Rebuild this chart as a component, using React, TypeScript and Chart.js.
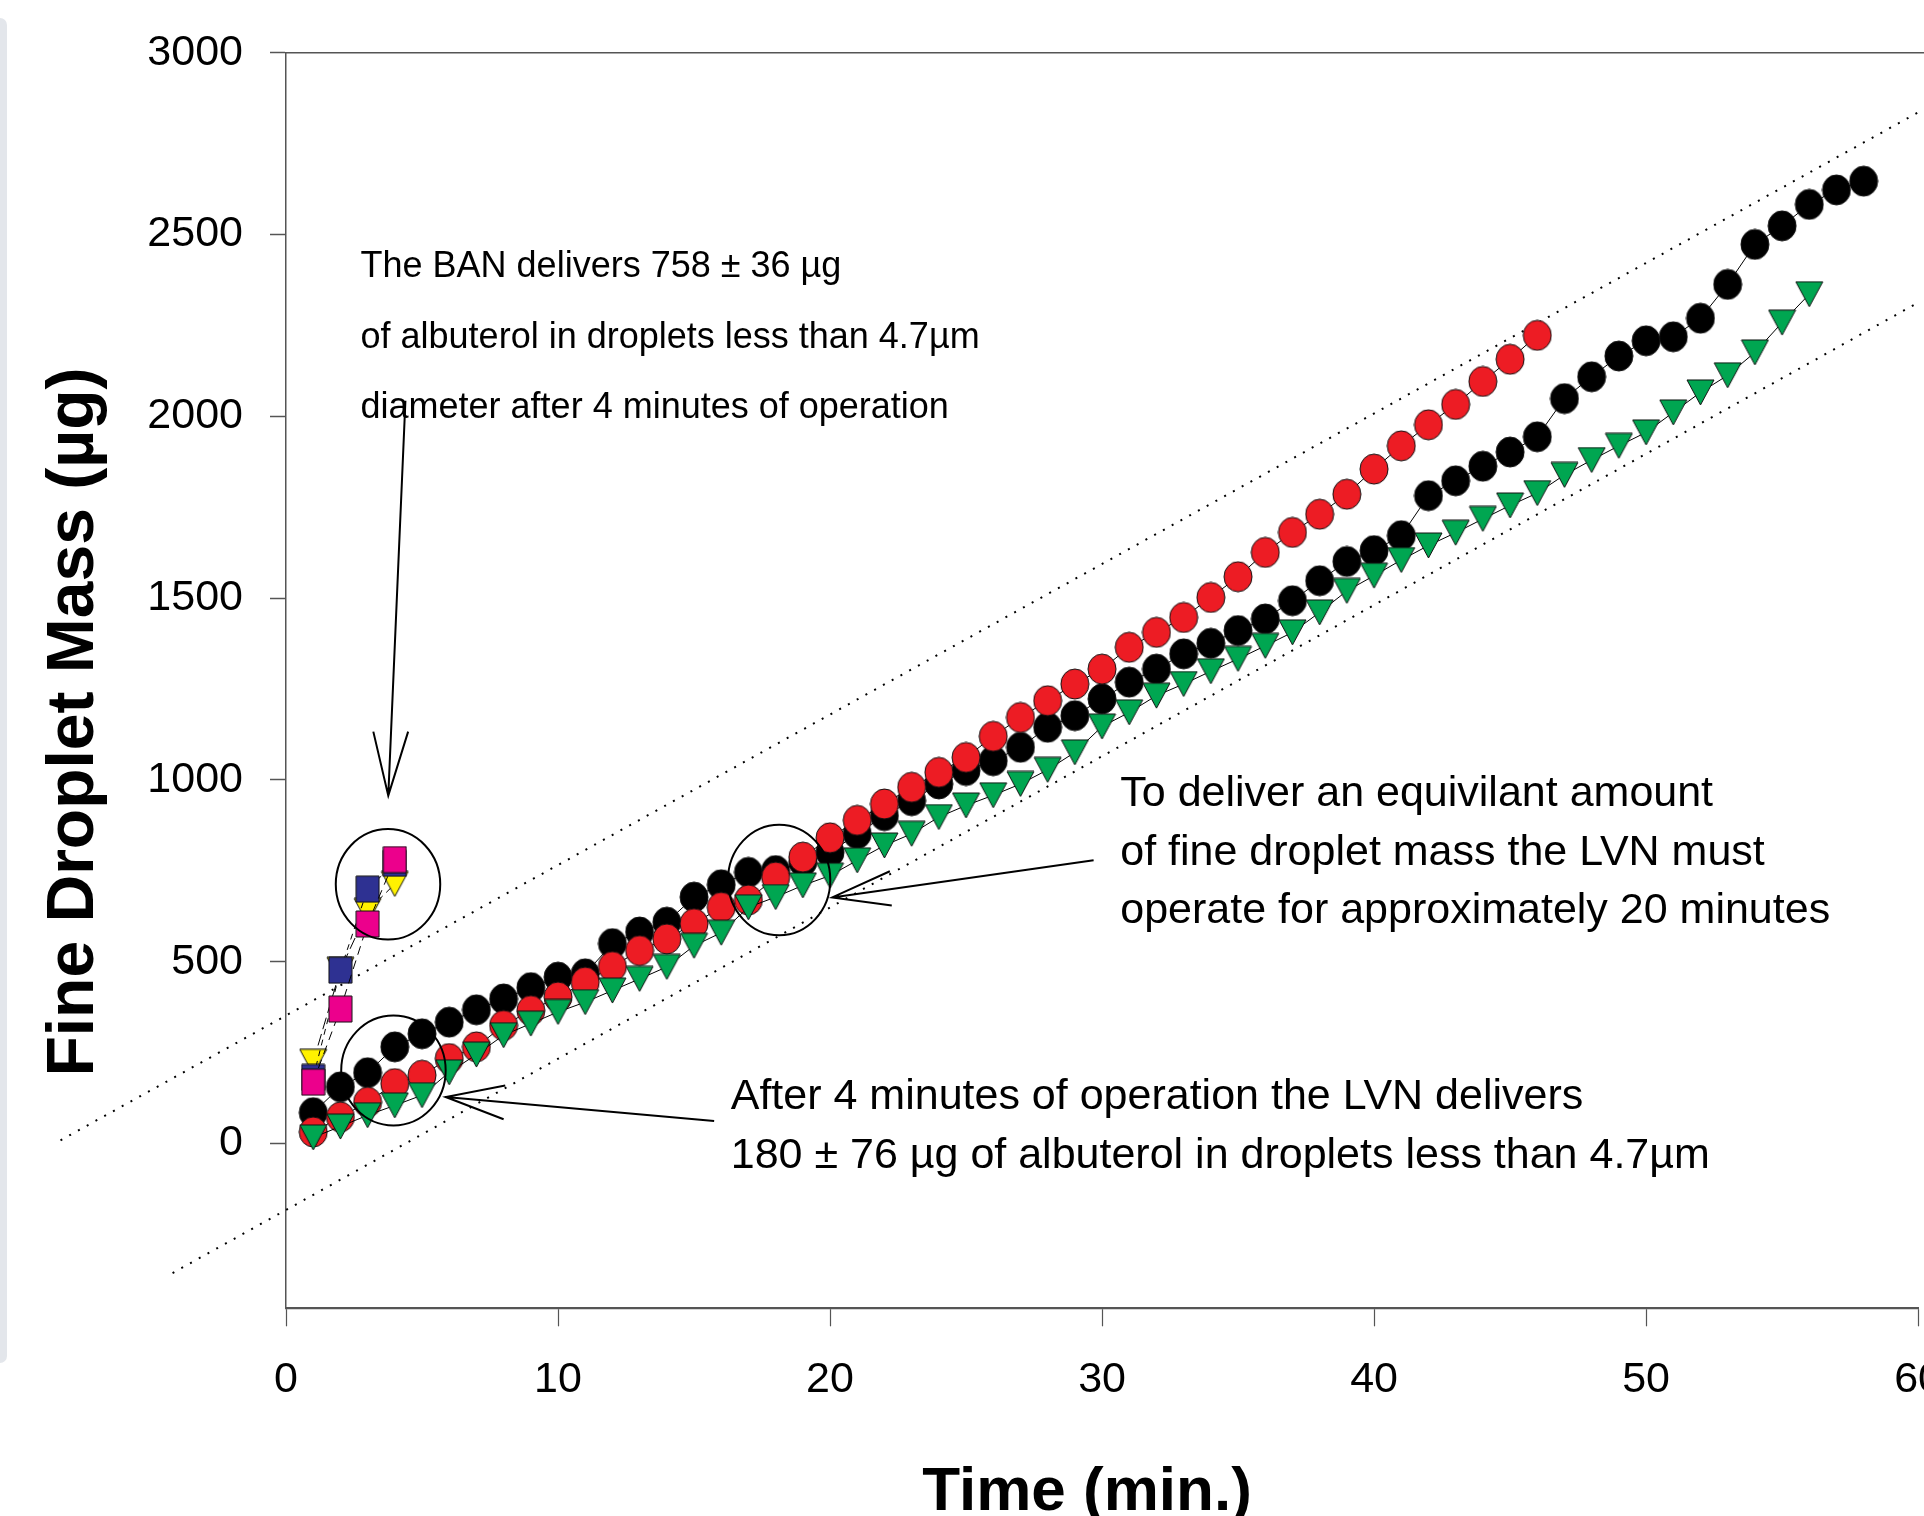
import React, { useEffect, useRef } from "react";
import { Chart, registerables } from "chart.js";

Chart.register(...registerables);

// ---------- data ----------
const TIMES = [
  1, 2, 3, 4, 5, 6, 7, 8, 9, 10, 11, 12, 13, 14, 15, 16, 17, 18, 19, 20,
  21, 22, 23, 24, 25, 26, 27, 28, 29, 30, 31, 32, 33, 34, 35, 36, 37, 38, 39, 40,
  41, 42, 43, 44, 45, 46, 47, 48, 49, 50, 51, 52, 53, 54, 55, 56, 57, 58,
];

// LVN run (black circles), minutes 1..58
const LVN_BLACK = [
  85, 156, 195, 266, 302, 334, 368, 398, 429, 458,
  467, 550, 582, 609, 678, 712, 746, 751, 775, 801,
  852, 902, 943, 989, 1026, 1053, 1090, 1145, 1177, 1223,
  1269, 1305, 1347, 1376, 1411, 1443, 1493, 1548, 1601, 1631,
  1672, 1782, 1823, 1863, 1902, 1944, 2049, 2109, 2166, 2208,
  2219, 2270, 2363, 2473, 2524, 2583, 2623, 2647,
];

// LVN run (red circles), minutes 1..46
const LVN_RED = [
  32, 73, 114, 165, 188, 234, 266, 325, 366, 403,
  444, 487, 531, 563, 605, 650, 670, 733, 788, 841,
  889, 934, 980, 1021, 1062, 1120, 1172, 1218, 1264, 1305,
  1365, 1406, 1447, 1502, 1559, 1626, 1681, 1731, 1786, 1855,
  1919, 1977, 2033, 2096, 2157, 2223,
];

// LVN run (green triangles), minutes 1..56
const LVN_GREEN = [
  17, 47, 78, 105, 133, 196, 245, 298, 330, 362,
  389, 421, 453, 486, 544, 580, 650, 678, 710, 737,
  779, 820, 852, 898, 930, 958, 989, 1028, 1076, 1147,
  1186, 1232, 1264, 1299, 1333, 1369, 1406, 1461, 1520, 1562,
  1605, 1645, 1680, 1718, 1755, 1789, 1839, 1880, 1919, 1956,
  2011, 2066, 2113, 2176, 2258, 2336,
];

// BAN runs, minutes 1..4
const BAN_PINK = [169, 370, 604, 781];
const BAN_NAVY = [182, 477, 700, 771];
const BAN_YELLOW = [225, 478, 640, 714];

// dotted guide lines (x, y end points)
const UPPER_GUIDE_X = [-8.29, 60];
const UPPER_GUIDE_Y = [9, 2836];
const LOWER_GUIDE_X = [-4.17, 60];
const LOWER_GUIDE_Y = [-356, 2313];

const X_TICKS = [0, 10, 20, 30, 40, 50, 60];
const Y_TICKS = [0, 500, 1000, 1500, 2000, 2500, 3000];

const X_TITLE = "Time (min.)";
const Y_TITLE = "Fine Droplet Mass (\u00b5g)";

const NOTE_BAN = [
  "The BAN delivers 758 \u00b1 36 \u00b5g",
  "of albuterol in droplets less than 4.7\u00b5m",
  "diameter after 4 minutes of operation",
];
const NOTE_EQUIV = [
  "To deliver an equivilant amount",
  "of fine droplet mass the LVN must",
  "operate for approximately 20 minutes",
];
const NOTE_LVN = [
  "After 4 minutes of operation the LVN delivers",
  "180 \u00b1 76 \u00b5g of albuterol in droplets less than 4.7\u00b5m",
];

// ---------- helpers ----------
const FONT = "'Liberation Sans', Arial, Helvetica, sans-serif";

function makeMarker(kind: string, fill: string, w: number, h: number) {
  const c = document.createElement("canvas");
  c.width = w + 2;
  c.height = h + 2;
  const g = c.getContext("2d")!;
  g.fillStyle = fill;
  g.strokeStyle = "#111";
  g.lineWidth = 1;
  g.beginPath();
  if (kind === "circle") {
    g.ellipse((w + 2) / 2, (h + 2) / 2, w / 2, h / 2, 0, 0, Math.PI * 2);
  } else if (kind === "square") {
    g.rect(1, 1, w, h);
  } else {
    g.moveTo(1, 1);
    g.lineTo(w + 1, 1);
    g.lineTo((w + 2) / 2, h + 1);
    g.closePath();
  }
  g.fill();
  g.stroke();
  return c;
}

function pairs(xs: number[], ys: number[]) {
  return ys.map((v, i) => ({ x: xs[i], y: v }));
}

const annotationPlugin = {
  id: "annotations",
  afterDatasetsDraw(chart: any) {
    const { ctx, chartArea } = chart;
    const xs = chart.scales.x;
    const ys = chart.scales.y;
    const px = (v: number) => xs.getPixelForValue(v);
    const py = (v: number) => ys.getPixelForValue(v);
    ctx.save();

    // top frame line at 3000
    ctx.strokeStyle = "#555";
    ctx.lineWidth = 1.5;
    ctx.beginPath();
    ctx.moveTo(chartArea.left, chartArea.top);
    ctx.lineTo(chart.width, chartArea.top);
    ctx.stroke();

    // highlight circles
    const circles = [
      { x: 3.75, y: 713, rx: 1.92, ry: 152 },
      { x: 3.95, y: 201, rx: 1.92, ry: 151 },
      { x: 18.13, y: 725, rx: 1.88, ry: 152 },
    ];
    ctx.strokeStyle = "#000";
    ctx.lineWidth = 2;
    circles.forEach((c) => {
      const cx = px(c.x);
      const cy = py(c.y);
      ctx.beginPath();
      ctx.ellipse(cx, cy, Math.abs(px(c.x + c.rx) - cx), Math.abs(py(c.y + c.ry) - cy), 0, 0, Math.PI * 2);
      ctx.stroke();
    });

    // arrows: start -> tip, plus two wings from tip
    const arrows = [
      { s: [4.39, 2043], t: [3.76, 957], w1: [3.21, 1133], w2: [4.49, 1133] },
      { s: [29.69, 779], t: [20.08, 677], w1: [22.27, 655], w2: [22.2, 749] },
      { s: [15.74, 62], t: [5.87, 128], w1: [8.06, 160], w2: [8.0, 67] },
    ];
    ctx.lineWidth = 2;
    arrows.forEach((a) => {
      ctx.beginPath();
      ctx.moveTo(px(a.s[0]), py(a.s[1]));
      ctx.lineTo(px(a.t[0]), py(a.t[1]));
      ctx.moveTo(px(a.w1[0]), py(a.w1[1]));
      ctx.lineTo(px(a.t[0]), py(a.t[1]));
      ctx.lineTo(px(a.w2[0]), py(a.w2[1]));
      ctx.stroke();
    });

    // notes
    ctx.fillStyle = "#000";
    ctx.textAlign = "left";
    ctx.textBaseline = "middle";
    ctx.font = `36px ${FONT}`;
    [2411, 2215, 2022].forEach((yy, i) => ctx.fillText(NOTE_BAN[i], px(2.74), py(yy)));
    ctx.font = `43px ${FONT}`;
    [960, 798, 640].forEach((yy, i) => ctx.fillText(NOTE_EQUIV[i], px(30.67), py(yy)));
    [127, -35].forEach((yy, i) => ctx.fillText(NOTE_LVN[i], px(16.35), py(yy)));

    // axis titles
    ctx.font = `bold 62px ${FONT}`;
    ctx.textAlign = "center";
    ctx.textBaseline = "alphabetic";
    ctx.fillText(X_TITLE, chartArea.left + 801, 1510);

    ctx.save();
    ctx.translate(93, 722);
    ctx.rotate(-Math.PI / 2);
    ctx.font = `bold 66px ${FONT}`;
    ctx.fillText(Y_TITLE, 0, 0);
    ctx.restore();

    ctx.restore();
  },
};

export default function App() {
  const ref = useRef<HTMLCanvasElement | null>(null);

  useEffect(() => {
    if (!ref.current) return;
    const blackDot = makeMarker("circle", "#000000", 28, 30);
    const redDot = makeMarker("circle", "#ed1c24", 28, 30);
    const greenTri = makeMarker("tri", "#00a651", 27, 25);
    const pinkSq = makeMarker("square", "#ec008c", 23, 26);
    const navySq = makeMarker("square", "#2e3192", 23, 26);
    const yellowTri = makeMarker("tri", "#fff200", 27, 25);

    const seriesLine = { borderColor: "#000", borderWidth: 1, tension: 0, pointRadius: 14, showLine: true };
    const banLine = { borderColor: "#000", borderWidth: 1, borderDash: [9, 6], tension: 0, pointRadius: 14, showLine: true };
    const guide = { borderColor: "#000", borderWidth: 2, borderDash: [2, 8], pointRadius: 0, showLine: true, clip: false as any };

    const chart = new Chart(ref.current, {
      type: "scatter",
      data: {
        datasets: [
          { label: "LVN green", data: pairs(TIMES, LVN_GREEN), pointStyle: greenTri, ...seriesLine },
          { label: "LVN red", data: pairs(TIMES, LVN_RED), pointStyle: redDot, ...seriesLine },
          { label: "LVN black", data: pairs(TIMES, LVN_BLACK), pointStyle: blackDot, ...seriesLine },
          { label: "BAN pink", data: pairs(TIMES, BAN_PINK), pointStyle: pinkSq, ...banLine },
          { label: "BAN navy", data: pairs(TIMES, BAN_NAVY), pointStyle: navySq, ...banLine, borderDash: [6, 5] },
          { label: "BAN yellow", data: pairs(TIMES, BAN_YELLOW), pointStyle: yellowTri, ...banLine, borderDash: [12, 5] },
          { label: "upper", data: pairs(UPPER_GUIDE_X, UPPER_GUIDE_Y), ...guide },
          { label: "lower", data: pairs(LOWER_GUIDE_X, LOWER_GUIDE_Y), ...guide },
        ] as any,
      },
      options: {
        responsive: false,
        devicePixelRatio: 1,
        animation: false,
        events: [],
        layout: { padding: { left: 0, top: 52, right: 41, bottom: 0 } },
        plugins: { legend: { display: false }, tooltip: { enabled: false }, title: { display: false } },
        scales: {
          x: {
            type: "linear",
            min: 0,
            max: 60,
            afterBuildTicks: (s: any) => {
              s.ticks = X_TICKS.map((v) => ({ value: v }));
            },
            afterFit: (s: any) => {
              s.height = 207.7;
            },
            grid: { drawOnChartArea: false, drawTicks: true, tickLength: 18, tickColor: "#555", tickWidth: 1.2 },
            border: { display: true, color: "#555", width: 2.2 },
            ticks: {
              color: "#000",
              font: { family: FONT, size: 43 },
              padding: 28,
              maxRotation: 0,
              autoSkip: false,
              callback: (v: any) => String(v),
            },
          },
          y: {
            type: "linear",
            min: -453,
            max: 3000,
            afterBuildTicks: (s: any) => {
              s.ticks = Y_TICKS.map((v) => ({ value: v }));
            },
            afterFit: (s: any) => {
              s.width = 286;
            },
            grid: { drawOnChartArea: false, drawTicks: true, tickLength: 16, tickColor: "#555", tickWidth: 1.5 },
            border: { display: true, color: "#555", width: 1.5 },
            ticks: {
              color: "#000",
              font: { family: FONT, size: 43 },
              padding: 27,
              autoSkip: false,
              callback: (v: any) => String(v),
            },
          },
        },
      } as any,
      plugins: [annotationPlugin],
    });
    return () => chart.destroy();
  }, []);

  return (
    <div style={{ position: "fixed", left: 0, top: 0, width: 1924, height: 1516, overflow: "hidden", background: "#fff" }}>
      <div
        style={{
          position: "absolute",
          left: 0,
          top: 18,
          width: 7,
          height: 1345,
          background: "#e3e6eb",
          borderRadius: "0 12px 12px 0",
        }}
      />
      <canvas
        ref={ref}
        width={1970}
        height={1516}
        style={{ position: "absolute", left: 0, top: 0, width: "1970px", height: "1516px" }}
      />
    </div>
  );
}
